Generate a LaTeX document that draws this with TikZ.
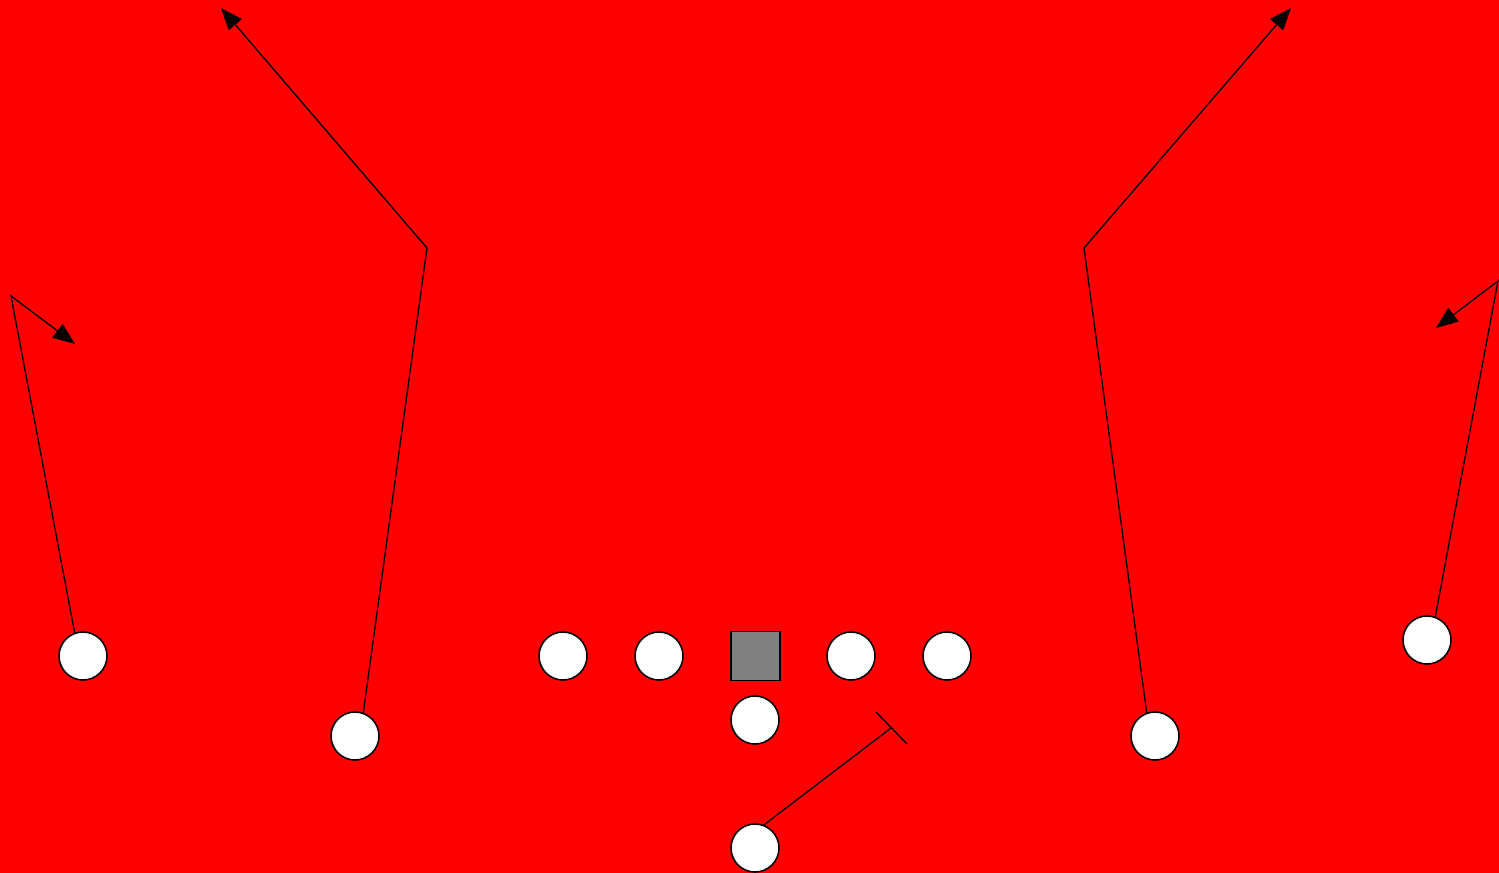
\documentclass[tikz,border=0pt]{standalone}
\usetikzlibrary{arrows.meta}
\begin{document}
\begin{tikzpicture}[x=0.02cm,y=-0.02cm,
  player/.style={circle,draw=black,fill=white,line width=0.9pt,minimum size=0.96cm,inner sep=0pt,outer sep=0pt},
  center/.style={rectangle,draw=black,fill=gray,line width=0.9pt,minimum size=0.98cm,inner sep=0pt,outer sep=0pt},
  route/.style={draw=black,line width=0.75pt},
  arr/.style={-{Triangle[length=0.44cm,width=0.34cm]}}
]
\fill[red] (0,0) rectangle (1499,873);
\useasboundingbox (0,0) rectangle (1499,873);
% players
\node[player] (wl) at (83,656) {};
\node[player] (sl) at (355,736) {};
\node[player] (lt) at (563,656) {};
\node[player] (lg) at (659,656) {};
\node[center] (c) at (755.5,656) {};
\node[player] (rg) at (851,656) {};
\node[player] (rt) at (947,656) {};
\node[player] (qb) at (755,720) {};
\node[player] (rb) at (755,848) {};
\node[player] (sr) at (1155,736) {};
\node[player] (wr) at (1427,640) {};
% route coordinates
\coordinate (wlb) at (11,296);
\coordinate (wle) at (75,344);
\coordinate (slb) at (427,248);
\coordinate (sle) at (221,8);
\coordinate (srb) at (1084,248);
\coordinate (sre) at (1291,8);
\coordinate (wrb) at (1498,281);
\coordinate (wre) at (1436,328);
\coordinate (rbe) at (891,728);
\coordinate (t1) at (876,712);
\coordinate (t2) at (907,744);
% routes
\draw[route,arr] (wl.110) -- (wlb) -- (wle);
\draw[route,arr] (sl.70) -- (slb) -- (sle);
\draw[route,arr] (sr.110) -- (srb) -- (sre);
\draw[route,arr] (wr.70) -- (wrb) -- (wre);
\draw[route] (rb.70) -- (rbe);
\draw[route] (t1) -- (t2);
\end{tikzpicture}
\end{document}
